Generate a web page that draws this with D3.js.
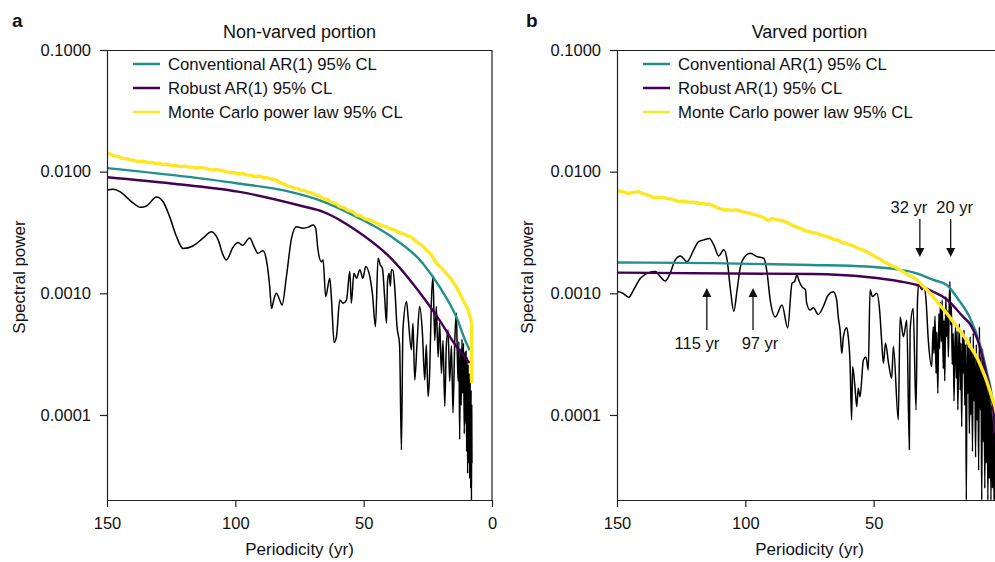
<!DOCTYPE html>
<html><head><meta charset="utf-8">
<script src="https://cdn.jsdelivr.net/npm/d3@7"></script>
<style>
html,body{margin:0;padding:0;background:#fff;}
svg{display:block;font-family:"Liberation Sans",Arial,Helvetica,sans-serif;}
</style></head><body>
<svg id="chart" width="995" height="562"></svg>
<script>
// ---------------- DATA ----------------
const yTickValues = [0.1, 0.01, 0.001, 0.0001];
const xTickValuesLeft = [150, 100, 50, 0];
const xTickValuesRight = [150, 100, 50];
const seriesNames = ["Conventional AR(1) 95% CL", "Robust AR(1) 95% CL", "Monte Carlo power law 95% CL"];
const panelTitles = ["Non-varved portion", "Varved portion"];
const panelLetters = ["a", "b"];
const xAxisTitle = "Periodicity (yr)";
const yAxisTitle = "Spectral power";
const annotationLabels = ["115 yr", "97 yr", "32 yr", "20 yr"];
const annotationPeriods = [115, 97, 32, 20];

// [periodicity (yr), spectral power]
const leftSpectrum = [
[150,7.08e-3],[147.6,7.16e-3],[145,6.85e-3],[140.5,5.68e-3],[136.9,5.09e-3],[134.6,5.22e-3],[130.7,6.19e-3],[128.2,5.68e-3],[125.6,4.27e-3],[122.9,2.92e-3],[120.4,2.34e-3],[116.5,2.45e-3],[112.6,2.84e-3],[109.3,3.21e-3],[106.7,2.75e-3],[104.8,2.07e-3],[103.5,1.88e-3],[100.9,2.39e-3],[98.9,2.61e-3],[97.2,2.48e-3],[94.4,2.85e-3],[92.7,2.42e-3],[91.2,2.13e-3],[89.2,2.24e-3],[87.9,1.88e-3],[86.6,1.13e-3],[85.9,7.5e-4],[85.0,8.9e-4],[84.0,1.0e-3],[82.8,8.9e-4],[81.8,8.0e-4],[80.1,1.37e-3],[78.1,2.84e-3],[76.2,3.53e-3],[73.6,3.43e-3],[71.5,3.5e-3],[69.7,3.65e-3],[68.7,3.42e-3],[67.8,2.28e-3],[66.5,1.82e-3],[65.8,1.88e-3],[64.8,9.4e-4],[63.2,1.33e-3],[62.6,9.4e-4],[61.5,3.94e-4],[60.6,4.4e-4],[59.3,8.8e-4],[58.0,8.3e-4],[56.7,8.8e-4],[55.4,1.51e-3],[54.8,8.3e-4],[53.8,1.46e-3],[52.8,1.33e-3],[51.5,1.56e-3],[50.3,1.33e-3],[49.2,1.66e-3],[47.6,1.37e-3],[46.6,1.0e-3],[45.4,5.32e-4],[44.4,1.94e-3],[43.5,1.71e-3],[42.7,1.61e-3],[41.8,9.1e-4],[41.1,5.68e-4],[40.7,1.25e-3],[40.1,1.46e-3],[39.6,1.15e-3],[39.2,1.56e-3],[38.6,1.55e-3],[37.9,1.12e-3],[37.0,5.32e-4],[36.0,3.77e-4],[35.3,5.16e-5],[34.7,5.0e-4],[33.3,8.55e-4],[32.7,6.44e-4],[31.4,3.43e-4],[30.8,5.68e-4],[30.1,1.94e-4],[29.2,3.9e-4],[28.2,7.78e-4],[27.1,4.7e-4],[26.2,1.94e-4],[25.6,3.77e-4],[24.9,1.42e-4],[24.3,2.2e-4],[23.6,8.8e-4],[23.0,1.37e-3],[22.3,4.1e-4],[21.7,7.8e-4],[21.0,3.0e-4],[20.4,5.7e-4],[19.7,2.2e-4],[19.1,4.1e-4],[18.4,1.18e-4],[17.8,3.7e-4],[17.1,5.0e-4],[16.5,1.9e-4],[15.8,3.7e-4],[15.2,1.04e-4],[14.5,4.1e-4],[13.9,6.9e-4],[13.5,3.0e-4],
[13.2,1.9e-4],[12.9,4.0e-4],[12.6,6.3e-5],[12.3,3.5e-4],[12.0,1.2e-4],[11.7,4.2e-4],[11.4,1.5e-4],[11.1,3.9e-4],[10.8,7.0e-5],[10.5,3.3e-4],[10.3,8.5e-5],[10.1,3.4e-4],[9.9,5.0e-5],[9.7,3.0e-4],[9.5,3.3e-5],[9.3,2.6e-4],[9.1,4.0e-5],[8.9,2.2e-4],[8.7,3.0e-5],[8.5,2.0e-4],[8.3,2.5e-5],[8.15,1.6e-4],[8.0,1.8e-5],[7.9,1.2e-4],[7.8,4.0e-5]
];
const leftConventional = [[150,1.07e-2],[125,9.4e-3],[99,8.0e-3],[79,6.85e-3],[66,5.7e-3],[53,4.27e-3],[40,3.0e-3],[27,1.77e-3],[20.4,1.13e-3],[13.9,6.4e-4],[10.0,3.9e-4],[8.7,3.4e-4]];
const leftRobust = [[150,9.0e-3],[125,8.0e-3],[99,6.85e-3],[73,5.15e-3],[66,4.7e-3],[53,3.3e-3],[40,2.0e-3],[27,9.4e-4],[20.4,6.0e-4],[13.9,3.65e-4],[8.7,2.67e-4]];
const leftMonteCarlo = [
[150,1.43e-2],[148.5,1.38e-2],[147,1.35e-2],[145.5,1.33e-2],[144.4,1.29e-2],[142.5,1.28e-2],[141,1.25e-2],[139.5,1.24e-2],[137.9,1.21e-2],[136,1.22e-2],[134,1.19e-2],[132.5,1.19e-2],[131.4,1.17e-2],[129.5,1.17e-2],[128,1.14e-2],[126.5,1.15e-2],[124.9,1.12e-2],[123,1.12e-2],[121,1.10e-2],[119.5,1.11e-2],[118.4,1.09e-2],[116.5,1.09e-2],[115,1.07e-2],[113.5,1.08e-2],[111.9,1.07e-2],[110,1.04e-2],[108.5,1.035e-2],[107,1.04e-2],[105.4,1.02e-2],[103.5,1.0e-2],[102,9.8e-3],[100.5,9.85e-3],[98.9,9.6e-3],[97,9.65e-3],[95.5,9.4e-3],[94,9.35e-3],[92.4,9.1e-3],[90.5,9.2e-3],[89,8.9e-3],[87.5,8.9e-3],[85.9,8.7e-3],[84,8.5e-3],[82.5,8.1e-3],[81,7.9e-3],[79.5,7.6e-3],[78.2,7.5e-3],[77,7.3e-3],[75.6,7.25e-3],[74.3,7.0e-3],[73.3,7.05e-3],[72.3,6.85e-3],[70.5,6.7e-3],[69,6.5e-3],[67.5,6.35e-3],[65.8,6.0e-3],[64,5.9e-3],[62.5,5.6e-3],[61,5.5e-3],[59.3,5.15e-3],[57.7,5.05e-3],[56,4.8e-3],[54.5,4.7e-3],[52.8,4.4e-3],[51,4.3e-3],[49.5,4.1e-3],[48,4.05e-3],[46.4,3.9e-3],[44.7,3.75e-3],[43,3.6e-3],[41.5,3.55e-3],[39.9,3.4e-3],[38,3.32e-3],[36.5,3.2e-3],[35,3.1e-3],[33.3,3.0e-3],[31.5,2.9e-3],[29.5,2.66e-3],[27.5,2.5e-3],[25.6,2.28e-3],[23.5,2.05e-3],[21.7,1.77e-3],[19.7,1.62e-3],[17.8,1.46e-3],[15.8,1.3e-3],[13.9,1.13e-3],[12.5,9.9e-4],[11.3,8.8e-4],[10.2,8.0e-4],[9.3,7.3e-4],[8.7,6.6e-4],[8.3,6.2e-4],[7.95,5.6e-4],[7.95,1.82e-4]
];

const rightSpectrum = [
[150,1.03e-3],[149.3,1.03e-3],[147.4,9.9e-4],[145.4,9.3e-4],[143.5,1.07e-3],[140.9,1.33e-3],[137.6,1.48e-3],[135.1,1.51e-3],[133.1,1.37e-3],[131.2,1.26e-3],[129.2,1.48e-3],[127.3,1.88e-3],[125.3,2.03e-3],[122.7,1.82e-3],[120.1,2.28e-3],[118.2,2.66e-3],[116.2,2.75e-3],[114.0,2.82e-3],[112.3,2.5e-3],[110.4,2.03e-3],[108.4,2.28e-3],[107.1,1.88e-3],[105.8,1.07e-3],[104.5,7.1e-4],[103.2,1.07e-3],[101.9,1.66e-3],[100.0,2.03e-3],[98.1,2.13e-3],[95.4,2.0e-3],[92.8,1.94e-3],[91.5,1.46e-3],[90.3,8.8e-4],[88.3,6.4e-4],[85.7,8.0e-4],[83.5,5.2e-4],[81.8,1.21e-3],[80.8,1.25e-3],[79.9,1.42e-3],[79.0,1.25e-3],[77.9,1.13e-3],[76.6,1.07e-3],[76.1,8.3e-4],[74.8,7.3e-4],[73.5,7.6e-4],[71.6,6.7e-4],[69.6,7.8e-4],[67.7,9.7e-4],[65.7,1.03e-3],[64.4,8.8e-4],[63.8,6.4e-4],[63.1,5.0e-4],[62.4,3.2e-4],[61.8,4.4e-4],[60.5,5.2e-4],[59.9,4.4e-4],[59.2,2.66e-4],[58.6,9.1e-5],[58.2,2.5e-4],[57.3,1.71e-4],[56.6,1.17e-4],[56.0,1.66e-4],[55.3,1.41e-4],[54.0,2.83e-4],[53.0,3.0e-4],[52.1,2.34e-4],[51.4,1.07e-3],[50.5,9.4e-4],[48.8,1.0e-3],[47.6,6.9e-4],[46.9,4.1e-4],[46.2,2.66e-4],[45.4,3.9e-4],[44.2,2.66e-4],[43.0,2.0e-4],[42.3,3.65e-4],[40.4,9.1e-5],[39.7,6.4e-4],[38.4,4.4e-4],[37.1,6.0e-4],[36.1,5.2e-5],[35.8,5.0e-4],[34.6,7.5e-4],[33.5,1.1e-4],[32.9,9.1e-4],[32.3,1.21e-3],[31.3,1.07e-3],[30.4,1.13e-3],[29.6,8.8e-4],[28.7,4.1e-4],[27.4,2.5e-4],[26.8,5.3e-4],
[26.5,3.2e-4],[26.1,6.5e-4],[25.7,2.2e-4],[25.4,4.8e-4],[25.0,1.5e-4],[24.6,6.8e-4],[24.3,3.5e-4],[24.0,8.5e-4],[23.6,4.0e-4],[23.3,8.8e-4],[22.9,2.4e-4],[22.6,6.0e-4],[22.3,1.9e-4],[21.9,9.4e-4],[21.6,4.4e-4],[21.2,7.2e-4],[20.9,3.0e-4],[20.6,7.3e-4],[20.3,1.25e-3],[20.0,5.5e-4],[19.7,7.8e-4],[19.4,2.6e-4],[19.0,4.7e-4],[18.7,1.3e-4],[18.4,3.3e-4],[18.1,5.3e-4],[17.8,2.0e-4],[17.5,4.9e-4],[17.2,1.1e-4],[16.9,3.4e-4],[16.6,5.6e-4],[16.3,1.6e-4],[16.0,3.9e-4],[15.7,8.0e-5],[15.4,4.4e-4],[15.1,2.2e-4],[14.8,5.0e-4],[14.5,1.2e-4],[14.2,3.8e-4],[13.9,2.0e-5],[13.6,4.2e-4],[13.3,1.5e-4],[13.0,3.6e-4],[12.7,7.0e-5],[12.4,4.4e-4],[12.1,1.0e-4],[11.8,3.4e-4],[11.5,5.0e-5],[11.2,4.7e-4],[10.9,1.3e-4],[10.6,3.0e-4],[10.3,4.5e-5],[10.0,3.8e-4],[9.7,9.0e-5],[9.4,2.8e-4],[9.1,3.5e-5],[8.8,5.3e-4],[8.5,1.1e-4],[8.2,3.0e-4],[7.9,2.0e-5],[7.6,3.5e-4],[7.3,6.0e-5],[7.0,2.8e-4],[6.7,2.5e-5],[6.4,2.5e-4],[6.1,4.0e-5],[5.8,2.2e-4],[5.5,2.0e-5],[5.2,1.8e-4],[4.9,3.0e-5],[4.6,1.5e-4],[4.3,2.0e-5],[4.0,1.2e-4],[3.7,2.5e-5],[3.4,1.0e-4],[3.1,2.0e-5],[2.8,8.0e-5],[2.6,2.0e-5]
];
const rightConventional = [[150,1.79e-3],[113,1.77e-3],[74,1.71e-3],[52.7,1.66e-3],[39.7,1.56e-3],[33.2,1.46e-3],[26.8,1.29e-3],[21.5,1.17e-3],[17,8.9e-4],[12.5,6.3e-4],[8.6,3.8e-4],[6.0,2.3e-4],[3.4,1.12e-4],[2.7,7.1e-5]];
const rightRobust = [[150,1.48e-3],[74,1.44e-3],[52.7,1.36e-3],[39.7,1.25e-3],[33.2,1.17e-3],[26.8,1.03e-3],[21.5,8.9e-4],[15.1,6.4e-4],[12.5,5.6e-4],[8.6,3.6e-4],[6.0,2.14e-4],[3.4,1.12e-4],[2.7,7.1e-5]];
const rightMonteCarlo = [
[150,6.98e-3],[148.7,6.9e-3],[147.5,6.84e-3],[146.4,6.7e-3],[145.4,6.64e-3],[143.5,6.75e-3],[141.5,6.85e-3],[140,6.6e-3],[138.5,6.45e-3],[137,6.3e-3],[135.7,6.12e-3],[133.8,6.15e-3],[131.8,6.12e-3],[130.3,6.0e-3],[128.8,5.96e-3],[127.3,5.8e-3],[125.9,5.68e-3],[124,5.72e-3],[122,5.62e-3],[120,5.6e-3],[118.2,5.5e-3],[116.8,5.48e-3],[115.5,5.4e-3],[114.2,5.42e-3],[113,5.32e-3],[111.7,5.15e-3],[110.5,5.0e-3],[109.5,4.95e-3],[108.4,4.84e-3],[107,4.86e-3],[105.5,4.8e-3],[104,4.85e-3],[102.6,4.79e-3],[101.3,4.7e-3],[100,4.62e-3],[98.7,4.58e-3],[97.4,4.49e-3],[95,4.35e-3],[92.8,4.19e-3],[91.8,4.05e-3],[90.9,3.94e-3],[89.6,4.12e-3],[88.3,4.05e-3],[87,4.0e-3],[85.7,3.95e-3],[84.4,3.88e-3],[82.5,3.7e-3],[80.5,3.53e-3],[78.5,3.42e-3],[76.6,3.26e-3],[75.3,3.22e-3],[74.0,3.15e-3],[72.2,3.12e-3],[70.6,3.02e-3],[69,2.95e-3],[67.3,2.88e-3],[65.7,2.79e-3],[64,2.74e-3],[62.5,2.63e-3],[60.8,2.58e-3],[59.2,2.5e-3],[57.6,2.44e-3],[56,2.34e-3],[54.3,2.28e-3],[52.7,2.2e-3],[51,2.1e-3],[49.5,2.0e-3],[47.8,1.93e-3],[46.2,1.82e-3],[44.6,1.76e-3],[43,1.68e-3],[41.3,1.63e-3],[39.7,1.56e-3],[38,1.48e-3],[36.5,1.41e-3],[34.8,1.36e-3],[33.2,1.29e-3],[31.2,1.17e-3],[29.3,1.07e-3],[27.3,9.6e-4],[25.4,8.55e-4],[23.5,7.7e-4],[21.5,6.85e-4],[19.5,6.0e-4],[17.6,5.33e-4],[15.7,4.7e-4],[13.8,4.14e-4],[11.8,3.5e-4],[9.9,3.02e-4],[8.2,2.5e-4],[6.6,2.07e-4],[5.2,1.7e-4],[4.0,1.42e-4],[2.7,1.17e-4],[2.0,1.0e-4]
];

// ---------------- DRAWING ----------------
const colors = ["#21908C", "#440154", "#FDE725"];
const svg = d3.select("#chart");
const y = d3.scaleLog().domain([2e-5, 0.1]).range([500, 50]);

const panels = [
  { x: d3.scaleLinear().domain([150, 0]).range([107, 492]), spec: leftSpectrum,
    curves: [leftConventional, leftRobust, leftMonteCarlo], title: panelTitles[0], letter: panelLetters[0],
    letterX: 12, yTitleX: 25, xt: xTickValuesLeft, box: true, ann: false },
  { x: d3.scaleLinear().domain([150, 0]).range([617, 1002]), spec: rightSpectrum,
    curves: [rightConventional, rightRobust, rightMonteCarlo], title: panelTitles[1], letter: panelLetters[1],
    letterX: 526, yTitleX: 533, xt: xTickValuesRight, box: false, ann: true }
];

const defs = svg.append("defs");

panels.forEach((p, i) => {
  const x = p.x;
  const [x0, x1] = x.range();
  const g = svg.append("g");
  const clipId = "clip" + i;
  defs.append("clipPath").attr("id", clipId).append("rect")
    .attr("x", x0).attr("y", 50).attr("width", x1 - x0).attr("height", 450);

  const plot = g.append("g").attr("clip-path", `url(#${clipId})`);
  const line = d3.line().x(d => x(d[0])).y(d => y(d[1]));
  const smooth = d3.line().x(d => x(d[0])).y(d => y(d[1])).curve(d3.curveMonotoneX);

  plot.append("path").datum(p.spec).attr("d", smooth)
    .attr("fill", "none").attr("stroke", "#000").attr("stroke-width", 1.5).attr("stroke-linejoin", "round");
  plot.append("path").datum(p.curves[0]).attr("d", smooth)
    .attr("fill", "none").attr("stroke", colors[0]).attr("stroke-width", 2.4);
  plot.append("path").datum(p.curves[1]).attr("d", smooth)
    .attr("fill", "none").attr("stroke", colors[1]).attr("stroke-width", 2.4);
  plot.append("path").datum(p.curves[2]).attr("d", line)
    .attr("fill", "none").attr("stroke", colors[2]).attr("stroke-width", 3.4).attr("stroke-linejoin", "round");

  // axes
  const gy = g.append("g").attr("transform", `translate(${x0},0)`)
    .call(d3.axisLeft(y).tickValues(yTickValues).tickFormat(d3.format(".4f")).tickSize(7).tickPadding(9).tickSizeOuter(0));
  const gx = g.append("g").attr("transform", `translate(0,500)`)
    .call(d3.axisBottom(x).tickValues(p.xt).tickFormat(d3.format("d")).tickSize(7).tickPadding(10).tickSizeOuter(0));
  [gx, gy].forEach(a => {
    a.attr("font-size", 16.5).attr("font-family", null);
    a.selectAll("path,line").attr("stroke", "#222").attr("stroke-width", 1.2);
    a.selectAll("text").attr("fill", "#111");
  });

  // frame
  g.append("line").attr("x1", x0).attr("x2", x1).attr("y1", 50.5).attr("y2", 50.5)
    .attr("stroke", "#222").attr("stroke-width", 1.2);
  if (p.box) {
    g.append("line").attr("x1", x1).attr("x2", x1).attr("y1", 50).attr("y2", 500)
      .attr("stroke", "#222").attr("stroke-width", 1.2);
  }

  // legend
  seriesNames.forEach((name, k) => {
    const ly = 64 + k * 24;
    g.append("line").attr("x1", x0 + 26).attr("x2", x0 + 53).attr("y1", ly).attr("y2", ly)
      .attr("stroke", colors[k]).attr("stroke-width", 2.5);
    g.append("text").attr("x", x0 + 61).attr("y", ly).attr("dy", "0.35em")
      .attr("font-size", 16.7).attr("fill", "#111").text(name);
  });

  // titles
  g.append("text").attr("x", (x0 + x1) / 2).attr("y", 38).attr("text-anchor", "middle")
    .attr("font-size", 18).attr("fill", "#111").text(p.title);
  g.append("text").attr("x", p.letterX).attr("y", 27).attr("font-size", 19).attr("font-weight", "bold")
    .attr("fill", "#111").text(p.letter);
  g.append("text").attr("x", (x0 + x1) / 2).attr("y", 555).attr("text-anchor", "middle")
    .attr("font-size", 17).attr("fill", "#111").text(xAxisTitle);
  g.append("text").attr("transform", `translate(${p.yTitleX},277) rotate(-90)`).attr("text-anchor", "middle")
    .attr("font-size", 17).attr("fill", "#111").text(yAxisTitle);

  // annotations
  if (p.ann) {
    const dxs = [-10, 7, -11, 4];
    annotationPeriods.forEach((per, k) => {
      const ax = x(per);
      const up = per > 60;
      if (up) {
        g.append("line").attr("x1", ax).attr("x2", ax).attr("y1", 330).attr("y2", 296)
          .attr("stroke", "#111").attr("stroke-width", 1.3);
        g.append("path").attr("d", `M${ax - 4.5},297 L${ax},288 L${ax + 4.5},297 Z`).attr("fill", "#111");
        g.append("text").attr("x", ax + dxs[k]).attr("y", 349).attr("text-anchor", "middle")
          .attr("font-size", 16.5).attr("fill", "#111").text(annotationLabels[k]);
      } else {
        g.append("line").attr("x1", ax).attr("x2", ax).attr("y1", 219).attr("y2", 250)
          .attr("stroke", "#111").attr("stroke-width", 1.3);
        g.append("path").attr("d", `M${ax - 4.5},248 L${ax},257 L${ax + 4.5},248 Z`).attr("fill", "#111");
        g.append("text").attr("x", ax + dxs[k]).attr("y", 213).attr("text-anchor", "middle")
          .attr("font-size", 16.5).attr("fill", "#111").text(annotationLabels[k]);
      }
    });
  }
});
</script>
</body></html>
